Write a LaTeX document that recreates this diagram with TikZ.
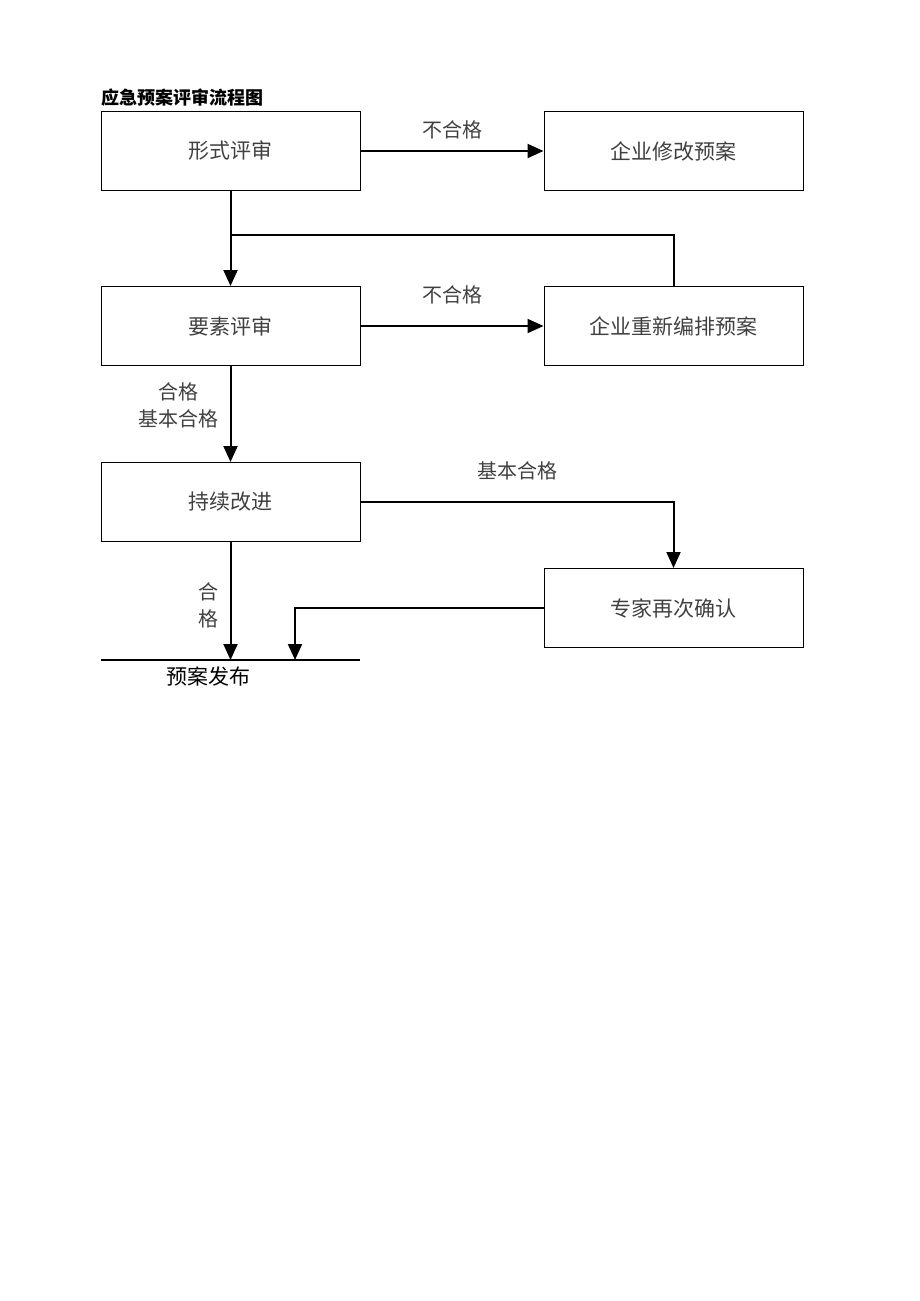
\documentclass[tikz,border=0pt]{standalone}
\usepackage{fontspec}
\setmainfont{Noto Sans CJK SC}
\newfontfamily\cjk{Noto Sans CJK SC}
\usetikzlibrary{positioning,arrows.meta}

\begin{document}
\begin{tikzpicture}[x=1pt, y=-1pt, node distance=95pt,
    review/.style={rectangle, draw, line width=1pt, minimum width=259pt, minimum height=79pt, text centered, text=black!75, font=\cjk\fontsize{21}{24}\selectfont},
    flow/.style={-{Triangle[width=14pt,length=16pt]}, line width=2pt},
    link/.style={line width=2pt},
    tag/.style={text=black!75, font=\cjk\fontsize{20}{27}\selectfont, align=center}]

\useasboundingbox (0,0) rectangle (920,1301);

% Title
\node[anchor=west, inner sep=0pt, font=\cjk\bfseries\fontsize{18}{20}\selectfont] (title) at (101,98) {应急预案评审流程图};

% Review stages
\node[review] (form) at (230.5,151) {形式评审};
\node[review, right=183pt of form] (revise) {企业修改预案};
\node[review, below=of form] (element) {要素评审};
\node[review, right=183pt of element] (rework) {企业重新编排预案};
\node[review, below=96pt of element] (improve) {持续改进};
\node[review, below=202pt of rework] (expert) {专家再次确认};

% Release line
\coordinate (pubL) at (101,660);
\coordinate (pubR) at (360,660);
\coordinate (pubM) at (295,660);
\coordinate (join) at (230.5,235);
\draw[line width=1.2pt] (pubL) -- (pubR);
\node[text=black, font=\cjk\fontsize{21}{24}\selectfont, below=3pt of pubL, xshift=107pt] (publish) {预案发布};

% Connections
\draw[flow] (form) -- node[tag, above=8pt] {不合格} (revise);
\draw[flow] (form) -- (element);
\draw[link] (rework.north) |- (join);
\draw[flow] (element) -- node[tag, above=18pt] {不合格} (rework);
\draw[flow] (element) -- node[tag, left=8pt, yshift=9pt] {合格\\基本合格} (improve);
\draw[flow] (improve.east) -| node[tag, above=18pt, pos=0.25] {基本合格} (expert.north);
\draw[flow] (improve) -- node[tag, left=18pt, yshift=-4pt, text width=1em] {合\\格} (improve |- pubL);
\draw[flow] (expert.west) -| (pubM);

\end{tikzpicture}
\end{document}
